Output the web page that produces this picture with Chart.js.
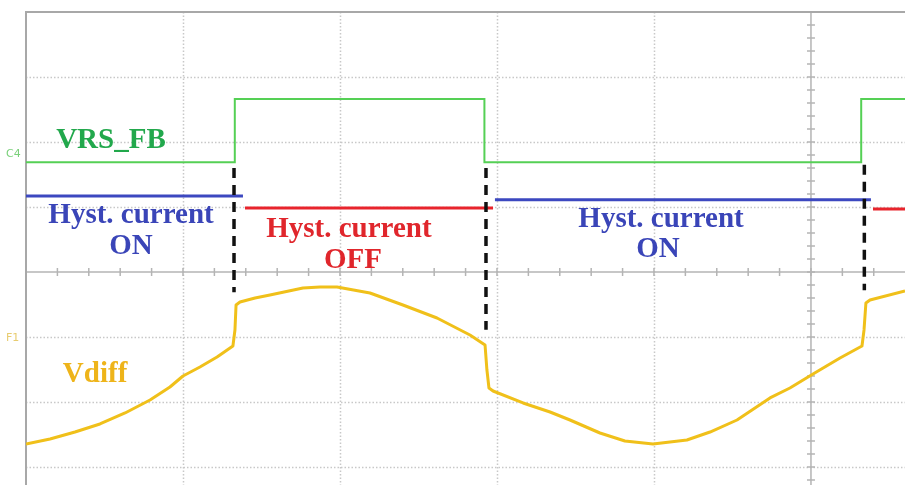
<!DOCTYPE html>
<html>
<head>
<meta charset="utf-8">
<script src="https://cdn.jsdelivr.net/npm/chart.js@4"></script>
<style>
  body { margin: 0; background: #fff; }
  canvas { display: block; }
</style>
</head>
<body>
<canvas id="scope" width="905" height="485"></canvas>
<script>
// time axis in scope divisions, voltage axis in divisions (0 = centre line)
const vrsTime  = [0, 1.33, 1.33, 2.92, 2.92, 5.32, 5.32, 5.6];
const vrsLevel = [1.69, 1.69, 2.66, 2.66, 1.69, 1.69, 2.66, 2.66];

const hystOnTime   = [0, 1.382, NaN, 2.987, 5.382];
const hystOnLevel  = [1.17, 1.17, NaN, 1.11, 1.11];
const hystOffTime  = [1.395, 2.975, NaN, 5.395, 5.6];
const hystOffLevel = [0.985, 0.985, NaN, 0.97, 0.97];

const markerTime = [1.325, 1.325, NaN, 2.93, 2.93, NaN, 5.34, 5.34];
const markerLevel = [1.6, -0.31, NaN, 1.6, -0.89, NaN, 1.65, -0.28];

const vdiffTime = [0, 0.153, 0.312, 0.471, 0.631, 0.79, 0.917, 1.0, 1.108, 1.217, 1.318,
  1.331, 1.338, 1.363, 1.459, 1.554, 1.764, 1.873, 1.981, 2.191, 2.401, 2.618, 2.828, 2.924,
  2.936, 2.949, 2.975, 3.166, 3.338, 3.465, 3.656, 3.815, 3.994, 4.21, 4.357, 4.529,
  4.739, 4.866, 5.013, 5.185, 5.325, 5.338, 5.35, 5.376, 5.599];
const vdiffLevel = [-2.646, -2.569, -2.462, -2.338, -2.169, -1.969, -1.769, -1.6, -1.462, -1.308, -1.138,
  -0.892, -0.508, -0.462, -0.4, -0.354, -0.246, -0.231, -0.231, -0.323, -0.508, -0.708, -0.969, -1.123,
  -1.508, -1.785, -1.831, -2.015, -2.154, -2.277, -2.477, -2.6, -2.646, -2.585, -2.462, -2.277,
  -1.938, -1.785, -1.569, -1.323, -1.138, -0.892, -0.477, -0.431, -0.292];

const gridX = [0, 1, 2, 3, 4, 5];
const gridY = [-3, -2, -1, 0, 1, 2, 3, 4];

function pts(xs, ys) {
  return xs.map((x, i) => ({ x: x, y: ys[i] }));
}

// text drawn on the screen shot
const notes = [
  { text: "VRS_FB", x: 0.541, y: 1.908, color: "#22a84c" },
  { text: "Hyst. current", x: 0.669, y: 0.754, color: "#3a45b8" },
  { text: "ON", x: 0.669, y: 0.277, color: "#3a45b8" },
  { text: "Hyst. current", x: 2.057, y: 0.538, color: "#e0262c" },
  { text: "OFF", x: 2.083, y: 0.062, color: "#e0262c" },
  { text: "Hyst. current", x: 4.045, y: 0.692, color: "#3a45b8" },
  { text: "ON", x: 4.025, y: 0.231, color: "#3a45b8" },
  { text: "Vdiff", x: 0.44, y: -1.692, color: "#eeb41a" }
];

const scopeGrid = {
  id: "scopeGrid",
  beforeDatasetsDraw(chart) {
    const ctx = chart.ctx;
    const xs = chart.scales.x, ys = chart.scales.y;
    const area = chart.chartArea;
    ctx.save();
    // dotted division lines
    ctx.strokeStyle = "#c8c8c8";
    ctx.lineWidth = 1.5;
    ctx.setLineDash([1.5, 2]);
    gridX.forEach(v => {
      if (v === 0 || v === 5) return;
      const px = Math.round(xs.getPixelForValue(v)) + 0.5;
      ctx.beginPath(); ctx.moveTo(px, area.top); ctx.lineTo(px, area.bottom); ctx.stroke();
    });
    gridY.forEach(v => {
      if (v === 0 || v === 4) return;
      const py = Math.round(ys.getPixelForValue(v)) + 0.5;
      ctx.beginPath(); ctx.moveTo(area.left, py); ctx.lineTo(area.right, py); ctx.stroke();
    });
    // solid centre lines with minor ticks
    ctx.setLineDash([]);
    ctx.strokeStyle = "#b4b4b4";
    const cx = xs.getPixelForValue(5), cy = ys.getPixelForValue(0);
    ctx.beginPath(); ctx.moveTo(cx, area.top); ctx.lineTo(cx, area.bottom); ctx.stroke();
    ctx.beginPath(); ctx.moveTo(area.left, cy); ctx.lineTo(area.right, cy); ctx.stroke();
    for (let v = 0.2; v < xs.max; v += 0.2) {
      const px = xs.getPixelForValue(v);
      ctx.beginPath(); ctx.moveTo(px, cy - 4); ctx.lineTo(px, cy + 4); ctx.stroke();
    }
    for (let v = ys.min; v < ys.max; v += 0.2) {
      const vv = Math.ceil(v * 5) / 5;
      const py = ys.getPixelForValue(vv);
      ctx.beginPath(); ctx.moveTo(cx - 4, py); ctx.lineTo(cx + 4, py); ctx.stroke();
    }
    // frame
    ctx.strokeStyle = "#a8a8a8";
    ctx.lineWidth = 2;
    ctx.beginPath();
    ctx.moveTo(area.left, area.bottom); ctx.lineTo(area.left, area.top); ctx.lineTo(area.right, area.top);
    ctx.stroke();
    // channel labels
    ctx.font = "11px 'DejaVu Sans'";
    ctx.textAlign = "left";
    ctx.fillStyle = "#7ad07a";
    ctx.fillText("C4", 6, ys.getPixelForValue(1.77));
    ctx.fillStyle = "#e8cc70";
    ctx.fillText("F1", 6, ys.getPixelForValue(-1.06));
    ctx.restore();
  },
  afterDatasetsDraw(chart) {
    const ctx = chart.ctx;
    const xs = chart.scales.x, ys = chart.scales.y;
    ctx.save();
    ctx.font = "bold 29px 'Liberation Serif'";
    ctx.textAlign = "center";
    ctx.textBaseline = "alphabetic";
    notes.forEach(n => {
      ctx.fillStyle = n.color;
      ctx.fillText(n.text, xs.getPixelForValue(n.x), ys.getPixelForValue(n.y));
    });
    ctx.restore();
  }
};

new Chart(document.getElementById("scope"), {
  type: "line",
  data: {
    datasets: [
      {
        label: "switch",
        data: pts(markerTime, markerLevel),
        borderColor: "#111",
        borderWidth: 3.5,
        borderDash: [10, 7],
        spanGaps: false
      },
      {
        label: "Hyst. current ON",
        data: pts(hystOnTime, hystOnLevel),
        borderColor: "#3c48c0",
        borderWidth: 3,
        spanGaps: false
      },
      {
        label: "Hyst. current OFF",
        data: pts(hystOffTime, hystOffLevel),
        borderColor: "#e8242c",
        borderWidth: 3,
        spanGaps: false
      },
      {
        label: "VRS_FB",
        data: pts(vrsTime, vrsLevel),
        borderColor: "#55d055",
        borderWidth: 2
      },
      {
        label: "Vdiff",
        data: pts(vdiffTime, vdiffLevel),
        borderColor: "#f0c01a",
        borderWidth: 3,
        borderJoinStyle: "round"
      }
    ]
  },
  options: {
    responsive: false,
    animation: false,
    layout: { padding: { left: 26, top: 12, right: 0, bottom: 0 }, autoPadding: false },
    elements: { point: { radius: 0 }, line: { tension: 0 } },
    plugins: { legend: { display: false }, tooltip: { enabled: false } },
    scales: {
      x: { type: "linear", display: false, min: 0, max: 5.599 },
      y: { type: "linear", display: false, min: -3.277, max: 4 }
    }
  },
  plugins: [scopeGrid]
});
</script>
</body>
</html>
